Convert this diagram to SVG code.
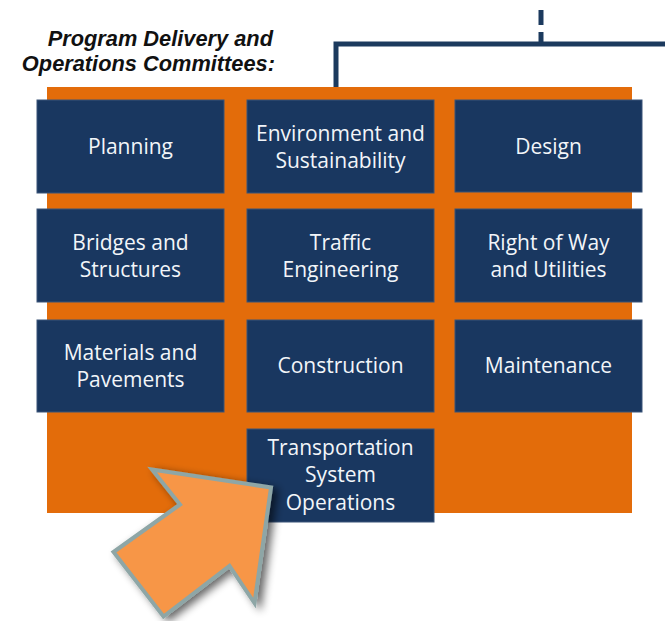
<svg xmlns="http://www.w3.org/2000/svg" width="665" height="621" viewBox="0 0 665 621">
<defs>
<style>
.box{fill:#193760;stroke:#3a5578;stroke-width:1}
.lbl{font-family:"Open Sans","Noto Sans",sans-serif;font-size:21px;fill:#f2f5f9;text-anchor:middle}
.title{font-family:"Liberation Sans",Arial,sans-serif;font-size:21.8px;font-weight:bold;font-style:italic;fill:#111;text-anchor:end}
.conn{stroke:#1c3a5e;stroke-width:5;fill:none}
</style>
<filter id="sh" x="-30%" y="-30%" width="160%" height="160%">
<feGaussianBlur in="SourceAlpha" stdDeviation="4"/>
<feOffset dx="5" dy="3" result="b"/>
<feComponentTransfer><feFuncA type="linear" slope="0.6"/></feComponentTransfer>
<feMerge><feMergeNode/><feMergeNode in="SourceGraphic"/></feMerge>
</filter>
</defs>
<rect width="665" height="621" fill="#ffffff"/>
<g id="title">
<text class="title" x="273" y="46">Program Delivery and</text>
<text class="title" x="275" y="71">Operations Committees:</text>
</g>
<g id="connectors">
<polyline class="conn" points="336,87 336,44 665,44"/>
<line class="conn" x1="541" y1="10" x2="541" y2="25"/>
<line class="conn" x1="541" y1="32" x2="541" y2="44"/>
</g>
<rect id="panel" x="47" y="87" width="585" height="426" fill="#e36c0a"/>
<g id="planning"><rect class="box" x="37" y="100" width="187" height="93"/><text class="lbl" x="130.5" y="154">Planning</text></g>
<g id="environment"><rect class="box" x="247" y="100" width="187" height="93"/><text class="lbl" x="340.5" y="140.5">Environment and</text><text class="lbl" x="340.5" y="167.5">Sustainability</text></g>
<g id="design"><rect class="box" x="455" y="100" width="187" height="92"/><text class="lbl" x="548.5" y="154">Design</text></g>
<g id="bridges"><rect class="box" x="37" y="209" width="187" height="93"/><text class="lbl" x="130.5" y="249.5">Bridges and</text><text class="lbl" x="130.5" y="276.5">Structures</text></g>
<g id="traffic"><rect class="box" x="247" y="209" width="187" height="93"/><text class="lbl" x="340.5" y="249.5">Traffic</text><text class="lbl" x="340.5" y="276.5">Engineering</text></g>
<g id="row"><rect class="box" x="455" y="209" width="187" height="93"/><text class="lbl" x="548.5" y="249.5">Right of Way</text><text class="lbl" x="548.5" y="276.5">and Utilities</text></g>
<g id="materials"><rect class="box" x="37" y="320" width="187" height="92"/><text class="lbl" x="130.5" y="359.5">Materials and</text><text class="lbl" x="130.5" y="386.5">Pavements</text></g>
<g id="construction"><rect class="box" x="247" y="320" width="187" height="92"/><text class="lbl" x="340.5" y="373">Construction</text></g>
<g id="maintenance"><rect class="box" x="455" y="320" width="187" height="92"/><text class="lbl" x="548.5" y="373">Maintenance</text></g>
<g id="tso"><rect class="box" x="247" y="429" width="187" height="93"/><text class="lbl" x="340.5" y="454.5">Transportation</text><text class="lbl" x="340.5" y="482">System</text><text class="lbl" x="340.5" y="509.5">Operations</text></g>
<g id="arrow" filter="url(#sh)">
<polygon points="152,469.5 271,487.5 254.5,603 229.5,566 163.5,616.5 113.5,552 180,504.5" fill="#f79646" stroke="#8ea6a6" stroke-width="4" stroke-linejoin="miter"/>
</g>
</svg>
